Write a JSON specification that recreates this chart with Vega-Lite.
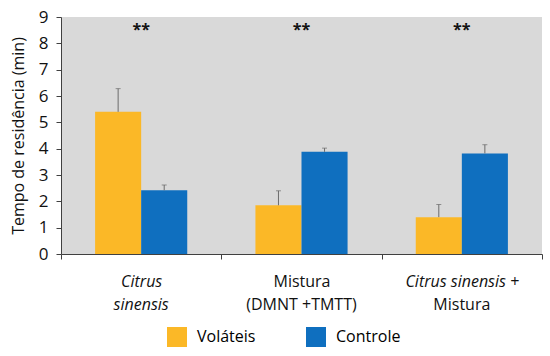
{
  "$schema": "https://vega.github.io/schema/vega-lite/v6.json",
  "width": 481,
  "height": 237,
  "padding": {"left": 10, "top": 8, "right": 2, "bottom": 5},
  "background": "white",
  "config": {
    "view": {"fill": "#d9d9d9", "stroke": null},
    "font": "Open Sans",
    "axis": {"grid": false, "domainColor": "#404040", "tickColor": "#404040", "labelColor": "#111", "titleColor": "#111"}
  },
  "datasets": {
    "bars": [
      {"cat": "Citrus sinensis", "grupo": "Voláteis", "valor": 5.4, "erro": 6.28},
      {"cat": "Citrus sinensis", "grupo": "Controle", "valor": 2.42, "erro": 2.62},
      {"cat": "Mistura (DMNT +TMTT)", "grupo": "Voláteis", "valor": 1.85, "erro": 2.4},
      {"cat": "Mistura (DMNT +TMTT)", "grupo": "Controle", "valor": 3.88, "erro": 4.02},
      {"cat": "Citrus sinensis + Mistura", "grupo": "Voláteis", "valor": 1.4, "erro": 1.88},
      {"cat": "Citrus sinensis + Mistura", "grupo": "Controle", "valor": 3.82, "erro": 4.15}
    ],
    "sig": [
      {"cat": "Citrus sinensis", "marca": "**", "pos": 8.5},
      {"cat": "Mistura (DMNT +TMTT)", "marca": "**", "pos": 8.5},
      {"cat": "Citrus sinensis + Mistura", "marca": "**", "pos": 8.5}
    ]
  },
  "resolve": {"axis": {"x": "independent"}},
  "layer": [
    {
      "data": {"name": "bars"},
      "mark": {"type": "bar"},
      "encoding": {
        "x": {
          "field": "cat", "type": "nominal",
          "sort": ["Citrus sinensis", "Mistura (DMNT +TMTT)", "Citrus sinensis + Mistura"],
          "scale": {"paddingInner": 0, "paddingOuter": 0},
          "axis": {
            "orient": "bottom", "title": null, "labelAngle": 0, "tickBand": "extent", "tickSize": 5,
            "labelFontSize": 16, "labelPadding": 22, "labelBaseline": "middle",
            "labelExpr": "datum.value == 'Citrus sinensis' ? 'Citrus' : datum.value == 'Citrus sinensis + Mistura' ? 'Citrus sinensis +' : datum.value == 'Mistura (DMNT +TMTT)' ? 'Mistura' : ''",
            "labelFontStyle": {"condition": {"test": "datum.value != 'Mistura (DMNT +TMTT)'", "value": "italic"}, "value": "normal"}
          }
        },
        "xOffset": {"field": "grupo", "sort": ["Voláteis", "Controle"], "scale": {"paddingInner": 0, "paddingOuter": 0.74}},
        "y": {
          "field": "valor", "type": "quantitative",
          "scale": {"domain": [0, 9]},
          "axis": {"title": "Tempo de residência (min)", "titleFontSize": 16, "titleFontWeight": "normal", "labelFontSize": 17, "values": [0,1,2,3,4,5,6,7,8,9], "tickSize": 5, "labelPadding": 8, "titlePadding": 12}
        },
        "color": {
          "field": "grupo", "type": "nominal", "sort": ["Voláteis", "Controle"],
          "scale": {"range": ["#FBB827", "#0F6FBF"]},
          "legend": {"orient": "none", "legendX": 106, "legendY": 310, "direction": "horizontal", "title": null, "symbolType": "square", "symbolSize": 400, "labelFontSize": 16, "columnPadding": 50, "labelOffset": 10, "symbolStrokeWidth": 0}
        }
      }
    },
    {
      "data": {"name": "bars"},
      "mark": {"type": "rule", "color": "#6b6b6b", "strokeWidth": 1},
      "encoding": {
        "x": {
          "field": "cat", "type": "nominal",
          "sort": ["Citrus sinensis", "Mistura (DMNT +TMTT)", "Citrus sinensis + Mistura"],
          "axis": {
            "orient": "bottom", "title": null, "labelAngle": 0, "domain": false, "ticks": false,
            "labelFontSize": 16, "labelPadding": 50, "labelBaseline": "middle",
            "labelExpr": "datum.value == 'Citrus sinensis' ? 'sinensis' : datum.value == 'Citrus sinensis + Mistura' ? 'Mistura' : datum.value == 'Mistura (DMNT +TMTT)' ? '(DMNT +TMTT)' : ''",
            "labelFontStyle": {"condition": {"test": "datum.value == 'Citrus sinensis'", "value": "italic"}, "value": "normal"}
          }
        },
        "xOffset": {"field": "grupo", "sort": ["Voláteis", "Controle"]},
        "y": {"field": "valor", "type": "quantitative",
          "axis": {"title": "Tempo de residência (min)", "titleFontSize": 16, "titleFontWeight": "normal", "labelFontSize": 17, "values": [0,1,2,3,4,5,6,7,8,9], "tickSize": 5, "labelPadding": 8, "titlePadding": 12}},
        "y2": {"field": "erro"}
      }
    },
    {
      "data": {"name": "bars"},
      "mark": {"type": "tick", "color": "#6b6b6b", "size": 5, "thickness": 1, "orient": "horizontal"},
      "encoding": {
        "x": {"field": "cat", "type": "nominal", "sort": ["Citrus sinensis", "Mistura (DMNT +TMTT)", "Citrus sinensis + Mistura"], "axis": null},
        "xOffset": {"field": "grupo", "sort": ["Voláteis", "Controle"]},
        "y": {"field": "erro", "type": "quantitative",
          "axis": {"title": "Tempo de residência (min)", "titleFontSize": 16, "titleFontWeight": "normal", "labelFontSize": 17, "values": [0,1,2,3,4,5,6,7,8,9], "tickSize": 5, "labelPadding": 8, "titlePadding": 12}}
      }
    },
    {
      "data": {"name": "sig"},
      "mark": {"type": "text", "fontSize": 16, "fontWeight": "bold", "color": "#111"},
      "encoding": {
        "x": {"field": "cat", "type": "nominal", "sort": ["Citrus sinensis", "Mistura (DMNT +TMTT)", "Citrus sinensis + Mistura"], "axis": null},
        "y": {"field": "pos", "type": "quantitative",
          "axis": {"title": "Tempo de residência (min)", "titleFontSize": 16, "titleFontWeight": "normal", "labelFontSize": 17, "values": [0,1,2,3,4,5,6,7,8,9], "tickSize": 5, "labelPadding": 8, "titlePadding": 12}},
        "text": {"field": "marca"}
      }
    }
  ]
}
